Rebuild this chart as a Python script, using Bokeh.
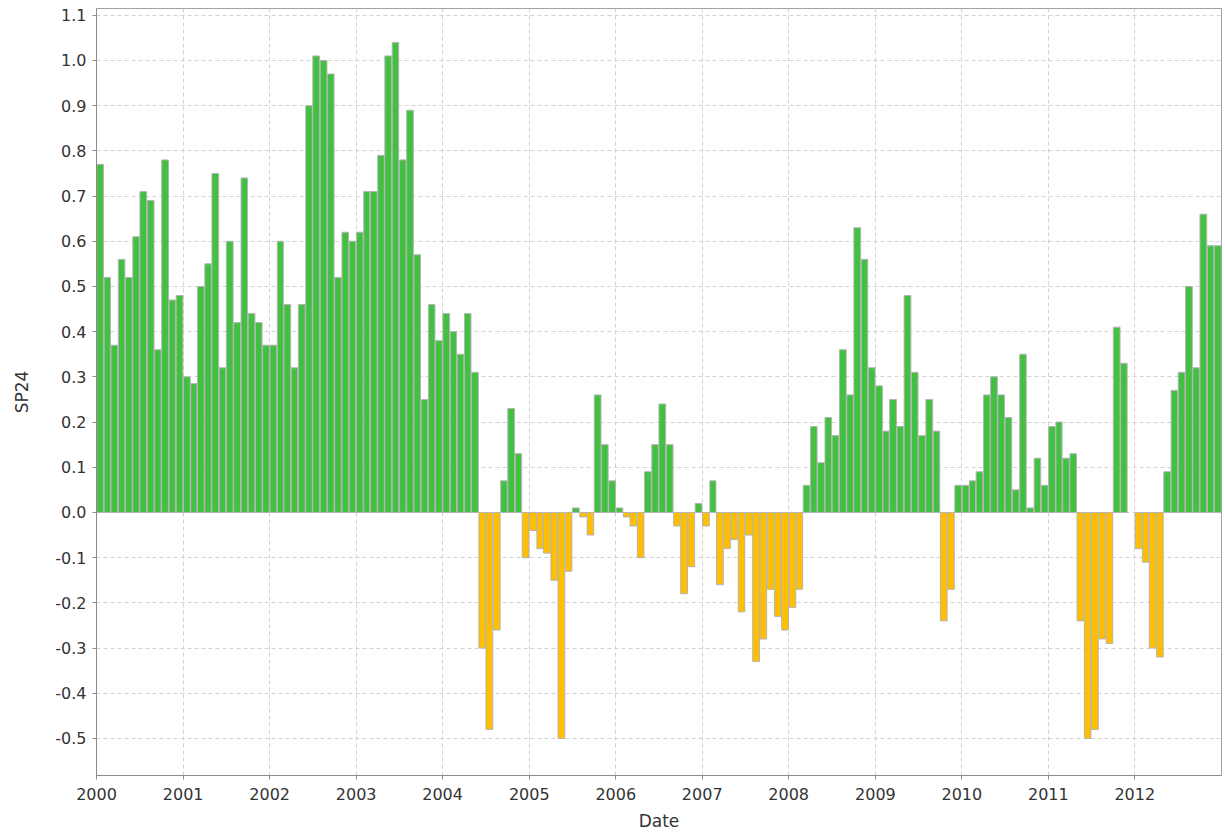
import numpy as np
import pandas as pd
from bokeh.plotting import figure
from bokeh.models import ColumnDataSource, FixedTicker, DatetimeTickFormatter, PrintfTickFormatter, Range1d
from bokeh.embed import file_html
from bokeh.resources import INLINE

years = list(range(2000, 2013))
v2000 = [0.77, 0.52, 0.37, 0.56, 0.52, 0.61, 0.71, 0.69, 0.36, 0.78, 0.47, 0.48]
v2001 = [0.30, 0.285, 0.50, 0.55, 0.75, 0.32, 0.60, 0.42, 0.74, 0.44, 0.42, 0.37]
v2002 = [0.37, 0.60, 0.46, 0.32, 0.46, 0.90, 1.01, 1.00, 0.97, 0.52, 0.62, 0.60]
v2003 = [0.62, 0.71, 0.71, 0.79, 1.01, 1.04, 0.78, 0.89, 0.57, 0.25, 0.46, 0.38]
v2004 = [0.44, 0.40, 0.35, 0.44, 0.31, -0.30, -0.48, -0.26, 0.07, 0.23, 0.13, -0.10]
v2005 = [-0.04, -0.08, -0.09, -0.15, -0.50, -0.13, 0.01, -0.01, -0.05, 0.26, 0.15, 0.07]
v2006 = [0.01, -0.01, -0.03, -0.10, 0.09, 0.15, 0.24, 0.15, -0.03, -0.18, -0.12, 0.02]
v2007 = [-0.03, 0.07, -0.16, -0.08, -0.06, -0.22, -0.05, -0.33, -0.28, -0.17, -0.23, -0.26]
v2008 = [-0.21, -0.17, 0.06, 0.19, 0.11, 0.21, 0.17, 0.36, 0.26, 0.63, 0.56, 0.32]
v2009 = [0.28, 0.18, 0.25, 0.19, 0.48, 0.31, 0.17, 0.25, 0.18, -0.24, -0.17, 0.06]
v2010 = [0.06, 0.07, 0.09, 0.26, 0.30, 0.26, 0.21, 0.05, 0.35, 0.01, 0.12, 0.06]
v2011 = [0.19, 0.20, 0.12, 0.13, -0.24, -0.50, -0.48, -0.28, -0.29, 0.41, 0.33, None]
v2012 = [-0.08, -0.11, -0.30, -0.32, 0.09, 0.27, 0.31, 0.50, 0.32, 0.66, 0.59, 0.59]
y_ticks = [-0.5, -0.4, -0.3, -0.2, -0.1, 0.0, 0.1, 0.2, 0.3, 0.4, 0.5, 0.6, 0.7, 0.8, 0.9, 1.0, 1.1]
x_label = "Date"
y_label = "SP24"

values = []
for yr in (v2000, v2001, v2002, v2003, v2004, v2005, v2006, v2007, v2008, v2009, v2010, v2011, v2012):
    values.extend(yr)
vals = np.array([np.nan if v is None else v for v in values], dtype=float)

starts = pd.date_range("2000-01-01", periods=len(vals) + 1, freq="MS")
left = starts[:-1]
right = starts[1:]
span = (right - left)
pad = span * 0.04
colors = ["#42c042" if (not np.isnan(v) and v >= 0) else "#ffbf00" for v in vals]

mask = ~np.isnan(vals)
src = ColumnDataSource(dict(
    left=list(left[mask] + pad[mask]),
    right=list(right[mask] - pad[mask]),
    top=list(np.where(vals[mask] > 0, vals[mask], 0.0)),
    bottom=list(np.where(vals[mask] < 0, vals[mask], 0.0)),
    color=[c for c, m in zip(colors, mask) if m],
))

p = figure(width=1224, height=838, x_axis_type="datetime", output_backend="svg",
           toolbar_location=None,
           x_range=Range1d(pd.Timestamp("2000-01-01"), pd.Timestamp("2013-01-01")),
           y_range=Range1d(-0.582, 1.115),
           min_border_left=96, min_border_right=3, min_border_top=8, min_border_bottom=63)

p.quad(left="left", right="right", top="top", bottom="bottom", source=src,
       fill_color="color", line_color="#b4b4b4", line_width=1)

year_ticks = [pd.Timestamp(f"{y}-01-01").value / 1e6 for y in years]
p.xaxis.ticker = FixedTicker(ticks=year_ticks)
p.xaxis.formatter = DatetimeTickFormatter(years="%Y", months="%Y", days="%Y", hours="%Y",
                                          minutes="%Y", seconds="%Y", milliseconds="%Y")
p.yaxis.ticker = FixedTicker(ticks=y_ticks)
p.yaxis.formatter = PrintfTickFormatter(format="%.1f")

for ax in (p.xaxis[0], p.yaxis[0]):
    ax.axis_line_color = "#8a8a8a"
    ax.major_tick_line_color = "#8a8a8a"
    ax.major_tick_out = 4
    ax.major_tick_in = 0
    ax.minor_tick_line_color = None
    ax.major_label_text_font = "DejaVu Sans"
    ax.major_label_text_font_size = "16px"
    ax.major_label_text_color = "#333333"
    ax.axis_label_text_font = "DejaVu Sans"
    ax.axis_label_text_font_size = "17px"
    ax.axis_label_text_font_style = "normal"
    ax.axis_label_text_color = "#333333"
p.xaxis.axis_label = x_label
p.yaxis.axis_label = y_label
p.yaxis.major_label_standoff = 6
p.xaxis.major_label_standoff = 8
p.yaxis.axis_label_standoff = 20
p.xaxis.axis_label_standoff = 8

for g in (p.xgrid[0], p.ygrid[0]):
    g.grid_line_color = "#d2d2d2"
    g.grid_line_dash = "4 3"
    g.grid_line_width = 1
p.xgrid.ticker = FixedTicker(ticks=year_ticks)
p.ygrid.ticker = FixedTicker(ticks=y_ticks)

p.outline_line_color = "#a0a0a0"
p.background_fill_color = "white"
p.border_fill_color = "white"

open("out.html", "w").write(file_html(p, INLINE))
